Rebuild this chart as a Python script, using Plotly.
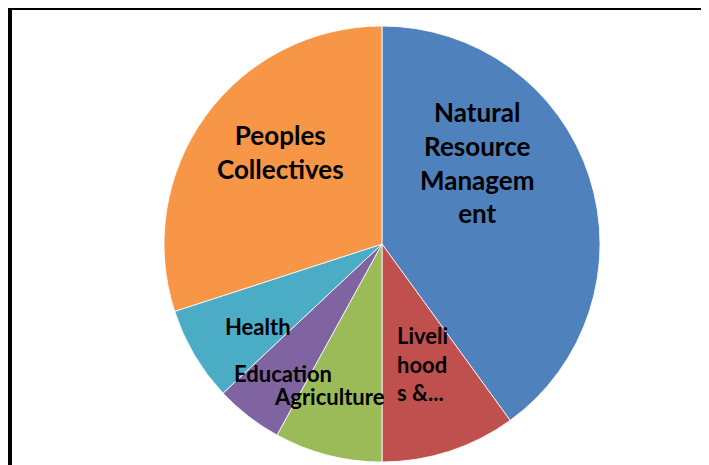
import plotly.graph_objects as go

categories = ["Natural Resource Management", "Livelihoods &...", "Agriculture",
              "Education", "Health", "Peoples Collectives"]
values = [40, 10, 8, 5, 7, 30]
display_labels = ["Natural<br>Resource<br>Managem<br>ent", "Liveli<br>hood<br>s &...",
                  "Agriculture", "Education", "Health", "Peoples<br>Collectives"]
colors = ["#4f81bd", "#c0504d", "#9bbb59", "#8064a2", "#4bacc6", "#f79646"]

W, H = 709, 465
OFF = 8  # page body offset
cx, cy, r = 382 - OFF, 244 - OFF, 218

fig = go.Figure(go.Pie(
    labels=categories, values=values, sort=False, direction="clockwise",
    rotation=0, textinfo="none", hoverinfo="label+value",
    marker=dict(colors=colors, line=dict(color="white", width=0.8)),
    domain=dict(x=[(cx - r) / W, (cx + r) / W], y=[1 - (cy + r) / H, 1 - (cy - r) / H]),
    showlegend=False,
))

# label positions (reference pixels) and sizes
label_pos = [(477, 163, 26), (422, 364, 22), (329, 396, 22), (283, 373, 22),
             (258, 326, 22), (280, 152, 26)]
for txt, (px, py, fs) in zip(display_labels, label_pos):
    fig.add_annotation(x=(px - OFF) / W, y=1 - (py - OFF) / H, xref="paper", yref="paper",
                       xanchor="center", yanchor="middle",
                       text=txt, showarrow=False,
                       align="left" if txt.startswith("Liveli") else "center",
                       font=dict(family="Lato", size=fs, color="black", weight="bold"))

fig.add_shape(type="rect", xref="paper", yref="paper",
              x0=(9.5 - OFF) / W, y0=1 - (7.5 - OFF) / H, x1=1.05, y1=-0.05,
              line=dict(color="black", width=5))

fig.update_layout(width=W, height=H, margin=dict(l=0, r=0, t=0, b=0),
                  paper_bgcolor="white", plot_bgcolor="white")
fig.write_html("out.html")
